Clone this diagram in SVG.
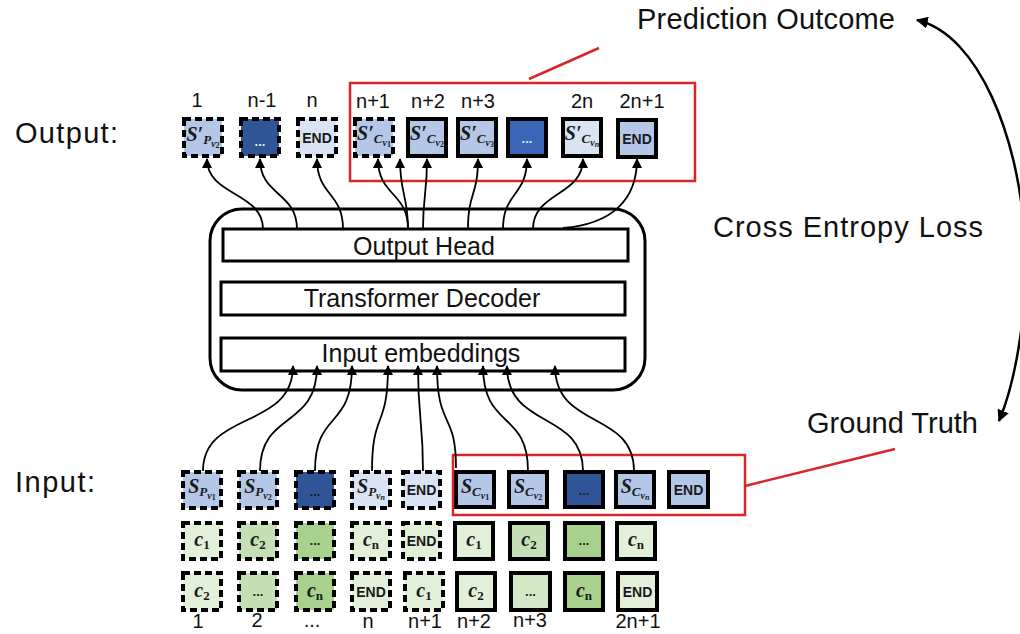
<svg xmlns="http://www.w3.org/2000/svg" width="1020" height="634" viewBox="0 0 1020 634">
  <style>
    .lbl { font-family: "Liberation Sans", Arial, sans-serif; fill: #111; }
    .big { font-size: 29px; }
    .mid { font-size: 25px; text-anchor: middle; }
    .idx { font-size: 20px; text-anchor: middle; }
    .bx { stroke: #000; stroke-width: 4; }
    .ds { stroke-dasharray: 7 4; }
    .layer { fill: #fff; stroke: #000; stroke-width: 3; }
    .b1 { fill: #b4c7e7; } .b2 { fill: #dae3f3; } .b3 { fill: #2f5597; } .b4 { fill: #3b65b6; }
    .g1 { fill: #e2f0d9; } .g2 { fill: #c5e0b4; } .g3 { fill: #a9d18e; } .g4 { fill: #d3e8c6; }
    .mt { font-family: "Liberation Serif", "DejaVu Serif", serif; font-weight: bold; font-style: italic; fill: #1a1a1a; text-anchor: middle; }
    .up { font-style: normal; }
    .f1 { font-size: 20px; } .f2 { font-size: 13px; } .f3 { font-size: 10px; } .f4 { font-size: 8px; }
    .end { font-family: "Liberation Sans", Arial, sans-serif; font-weight: bold; font-size: 14px; text-anchor: middle; fill: #1a1a1a; }
    .dots { font-family: "Liberation Sans", Arial, sans-serif; font-weight: bold; font-size: 13px; text-anchor: middle; fill: #1a1a1a; }
    .dotsw { fill: #e8edf7; }
    .wire { fill: none; stroke: #000; stroke-width: 1.8; marker-end: url(#tip); }
    .red { fill: none; stroke: #d9262b; stroke-width: 2.5; }
  </style>
  <defs>
    <marker id="tip" viewBox="0 0 10 10" refX="9" refY="5" markerUnits="userSpaceOnUse" markerWidth="10" markerHeight="10" orient="auto">
      <path d="M0,0 L10,5 L0,10 z" fill="#000"/>
    </marker>
    <marker id="tip2" viewBox="0 0 10 10" refX="9" refY="5" markerUnits="userSpaceOnUse" markerWidth="12" markerHeight="12" orient="auto-start-reverse">
      <path d="M0,0 L10,5 L0,10 z" fill="#000"/>
    </marker>
  </defs>

  <!-- side labels -->
  <text class="lbl big" x="15" y="143" textLength="103">Output:</text>
  <text class="lbl big" x="15" y="492" textLength="80">Input:</text>
  <text class="lbl big" x="637" y="29" textLength="258">Prediction Outcome</text>
  <text class="lbl big" x="713" y="237" textLength="270">Cross Entropy Loss</text>
  <text class="lbl big" x="807" y="433" textLength="171">Ground Truth</text>

  <!-- model stack -->
  <g id="decoder-block">
    <rect x="210" y="209" width="435" height="181" rx="32" class="layer"/>
  </g>
  <g id="output-head">
    <rect x="223" y="229" width="405" height="32" class="layer"/>
    <text class="lbl mid" x="424" y="255">Output Head</text>
  </g>
  <g id="transformer-decoder">
    <rect x="221" y="282" width="404" height="33" class="layer"/>
    <text class="lbl mid" x="422" y="307">Transformer Decoder</text>
  </g>
  <g id="input-embeddings">
    <rect x="221" y="338" width="404" height="33" class="layer"/>
    <text class="lbl mid" x="421" y="362">Input embeddings</text>
  </g>

  <!-- output position indices -->
  <g id="out-index">
    <text class="lbl idx" x="197" y="107">1</text>
    <text class="lbl idx" x="262" y="107">n-1</text>
    <text class="lbl idx" x="312" y="107">n</text>
    <text class="lbl idx" x="373" y="108">n+1</text>
    <text class="lbl idx" x="428" y="108">n+2</text>
    <text class="lbl idx" x="478" y="108">n+3</text>
    <text class="lbl idx" x="582" y="108">2n</text>
    <text class="lbl idx" x="642" y="108">2n+1</text>
  </g>

  <!-- output tokens -->
  <g id="out-1"><rect x="184" y="119" width="38" height="37" class="bx ds b1"/>
    <text class="mt" x="203" y="141"><tspan class="f1">S′</tspan><tspan class="f2" dy="3">P</tspan><tspan class="f3" dy="3">v</tspan><tspan class="f4 up" dy="1">2</tspan></text></g>
  <g id="out-2"><rect x="241" y="119" width="38" height="37" class="bx ds b3"/>
    <text class="dots dotsw" x="260" y="146">...</text></g>
  <g id="out-3"><rect x="298" y="119" width="38" height="37" class="bx ds b2"/>
    <text class="end" x="317" y="143">END</text></g>
  <g id="out-4"><rect x="355" y="119" width="38" height="37" class="bx ds b1"/>
    <text class="mt" x="374" y="140"><tspan class="f1">S′</tspan><tspan class="f2" dy="3">C</tspan><tspan class="f3" dy="3">v</tspan><tspan class="f4 up" dy="1">1</tspan></text></g>
  <g id="out-5"><rect x="408" y="119" width="38" height="37" class="bx b1"/>
    <text class="mt" x="427" y="140"><tspan class="f1">S′</tspan><tspan class="f2" dy="3">C</tspan><tspan class="f3" dy="3">v</tspan><tspan class="f4 up" dy="1">2</tspan></text></g>
  <g id="out-6"><rect x="458" y="119" width="38" height="37" class="bx b1"/>
    <text class="mt" x="477" y="140"><tspan class="f1">S′</tspan><tspan class="f2" dy="3">C</tspan><tspan class="f3" dy="3">v</tspan><tspan class="f4 up" dy="1">3</tspan></text></g>
  <g id="out-7"><rect x="508" y="119" width="38" height="37" class="bx b4"/>
    <text class="dots dotsw" x="527" y="143">...</text></g>
  <g id="out-8"><rect x="563" y="119" width="38" height="37" class="bx b2"/>
    <text class="mt" x="582" y="140"><tspan class="f1">S′</tspan><tspan class="f2" dy="3">C</tspan><tspan class="f3" dy="3">v</tspan><tspan class="f4" dy="1">n</tspan></text></g>
  <g id="out-9"><rect x="618" y="120" width="38" height="37" class="bx b1"/>
    <text class="end" x="637" y="144">END</text></g>

  <!-- input tokens -->
  <g id="in-1"><rect x="183" y="472" width="38" height="36" class="bx ds b1"/>
    <text class="mt" x="202" y="493"><tspan class="f1">S</tspan><tspan class="f2" dy="3">P</tspan><tspan class="f3" dy="3">v</tspan><tspan class="f4 up" dy="1">1</tspan></text></g>
  <g id="in-2"><rect x="239" y="472" width="38" height="36" class="bx ds b1"/>
    <text class="mt" x="258" y="493"><tspan class="f1">S</tspan><tspan class="f2" dy="3">P</tspan><tspan class="f3" dy="3">v</tspan><tspan class="f4 up" dy="1">2</tspan></text></g>
  <g id="in-3"><rect x="296" y="472" width="38" height="36" class="bx ds b3"/>
    <text class="dots" x="315" y="496">...</text></g>
  <g id="in-4"><rect x="352" y="472" width="38" height="36" class="bx ds b2"/>
    <text class="mt" x="371" y="493"><tspan class="f1">S</tspan><tspan class="f2" dy="3">P</tspan><tspan class="f3" dy="3">v</tspan><tspan class="f4" dy="1">n</tspan></text></g>
  <g id="in-5"><rect x="403" y="472" width="37" height="36" class="bx ds b2"/>
    <text class="end" x="421.5" y="495">END</text></g>
  <g id="in-6"><rect x="456" y="472" width="38" height="35" class="bx b1"/>
    <text class="mt" x="475" y="493"><tspan class="f1">S</tspan><tspan class="f2" dy="3">C</tspan><tspan class="f3" dy="3">v</tspan><tspan class="f4 up" dy="1">1</tspan></text></g>
  <g id="in-7"><rect x="509" y="472" width="38" height="35" class="bx b1"/>
    <text class="mt" x="528" y="493"><tspan class="f1">S</tspan><tspan class="f2" dy="3">C</tspan><tspan class="f3" dy="3">v</tspan><tspan class="f4 up" dy="1">2</tspan></text></g>
  <g id="in-8"><rect x="565" y="472" width="38" height="35" class="bx b3"/>
    <text class="dots" x="584" y="495">...</text></g>
  <g id="in-9"><rect x="616" y="472" width="38" height="35" class="bx b1"/>
    <text class="mt" x="635" y="493"><tspan class="f1">S</tspan><tspan class="f2" dy="3">C</tspan><tspan class="f3" dy="3">v</tspan><tspan class="f4" dy="1">n</tspan></text></g>
  <g id="in-10"><rect x="669" y="472" width="39" height="35" class="bx b1"/>
    <text class="end" x="688.5" y="495">END</text></g>

  <!-- context row -->
  <g id="ctx-1"><rect x="183" y="523" width="38" height="36" class="bx ds g1"/>
    <text class="mt" x="202" y="546"><tspan class="f1">c</tspan><tspan class="f2 up" dy="3">1</tspan></text></g>
  <g id="ctx-2"><rect x="239" y="523" width="38" height="36" class="bx ds g2"/>
    <text class="mt" x="258" y="546"><tspan class="f1">c</tspan><tspan class="f2 up" dy="3">2</tspan></text></g>
  <g id="ctx-3"><rect x="296" y="523" width="38" height="36" class="bx ds g3"/>
    <text class="dots" x="315" y="545">...</text></g>
  <g id="ctx-4"><rect x="352" y="523" width="38" height="36" class="bx ds g1"/>
    <text class="mt" x="371" y="546"><tspan class="f1">c</tspan><tspan class="f2 up" dy="3">n</tspan></text></g>
  <g id="ctx-5"><rect x="403" y="523" width="37" height="36" class="bx ds g1"/>
    <text class="end" x="421.5" y="546">END</text></g>
  <g id="ctx-6"><rect x="455" y="523" width="38" height="36" class="bx g1"/>
    <text class="mt" x="474" y="546"><tspan class="f1">c</tspan><tspan class="f2 up" dy="3">1</tspan></text></g>
  <g id="ctx-7"><rect x="510" y="523" width="38" height="36" class="bx g2"/>
    <text class="mt" x="529" y="546"><tspan class="f1">c</tspan><tspan class="f2 up" dy="3">2</tspan></text></g>
  <g id="ctx-8"><rect x="565" y="523" width="38" height="36" class="bx g3"/>
    <text class="dots" x="584" y="545">...</text></g>
  <g id="ctx-9"><rect x="617" y="523" width="38" height="36" class="bx g1"/>
    <text class="mt" x="636" y="546"><tspan class="f1">c</tspan><tspan class="f2 up" dy="3">n</tspan></text></g>

  <!-- shifted target row -->
  <g id="tgt-1"><rect x="183" y="573" width="38" height="37" class="bx ds g1"/>
    <text class="mt" x="202" y="597"><tspan class="f1">c</tspan><tspan class="f2 up" dy="3">2</tspan></text></g>
  <g id="tgt-2"><rect x="239" y="573" width="38" height="37" class="bx ds g2"/>
    <text class="dots" x="258" y="596">...</text></g>
  <g id="tgt-3"><rect x="296" y="573" width="38" height="37" class="bx ds g3"/>
    <text class="mt" x="315" y="597"><tspan class="f1">c</tspan><tspan class="f2 up" dy="3">n</tspan></text></g>
  <g id="tgt-4"><rect x="352" y="573" width="38" height="37" class="bx ds g1"/>
    <text class="end" x="371" y="597">END</text></g>
  <g id="tgt-5"><rect x="405" y="573" width="38" height="37" class="bx ds g1"/>
    <text class="mt" x="424" y="597"><tspan class="f1">c</tspan><tspan class="f2 up" dy="3">1</tspan></text></g>
  <g id="tgt-6"><rect x="457" y="573" width="38" height="37" class="bx g1"/>
    <text class="mt" x="476" y="597"><tspan class="f1">c</tspan><tspan class="f2 up" dy="3">2</tspan></text></g>
  <g id="tgt-7"><rect x="511" y="573" width="39" height="37" class="bx g4"/>
    <text class="dots" x="530.5" y="596">...</text></g>
  <g id="tgt-8"><rect x="565" y="573" width="38" height="37" class="bx g3"/>
    <text class="mt" x="584" y="597"><tspan class="f1">c</tspan><tspan class="f2 up" dy="3">n</tspan></text></g>
  <g id="tgt-9"><rect x="618" y="573" width="39" height="37" class="bx g1"/>
    <text class="end" x="637.5" y="597">END</text></g>

  <!-- input position indices -->
  <g id="in-index">
    <text class="lbl idx" x="198" y="628">1</text>
    <text class="lbl idx" x="257" y="627">2</text>
    <text class="lbl idx" x="312" y="627">...</text>
    <text class="lbl idx" x="368" y="628">n</text>
    <text class="lbl idx" x="425" y="628">n+1</text>
    <text class="lbl idx" x="474" y="628">n+2</text>
    <text class="lbl idx" x="530" y="627">n+3</text>
    <text class="lbl idx" x="638" y="628">2n+1</text>
  </g>

  <!-- highlight frames and callout ticks -->
  <g id="frames">
    <rect x="350" y="83" width="345" height="98" class="red"/>
    <line x1="529" y1="79" x2="599" y2="48" class="red"/>
    <rect x="453" y="455" width="292" height="60" class="red"/>
    <line x1="745" y1="486" x2="895" y2="449" class="red"/>
  </g>

  <!-- connectors -->
  <g id="connectors">
    <path class="wire" d="M263,229 C263,192 207,196 207,159"/>
    <path class="wire" d="M297,229 C297,192 260,196 260,159"/>
    <path class="wire" d="M343,229 C343,192 317,196 317,159"/>
    <path class="wire" d="M408,229 C408,192 378,196 378,159"/>
    <path class="wire" d="M408,229 C408,195 400,195 400,159"/>
    <path class="wire" d="M423,229 C423,195 427,195 427,159"/>
    <path class="wire" d="M468,229 C468,192 478,196 478,159"/>
    <path class="wire" d="M503,229 C503,192 527,196 527,159"/>
    <path class="wire" d="M533,229 C533,192 583,196 583,159"/>
    <path class="wire" d="M563,228 C612,224 637,200 637,159"/>

    <path class="wire" d="M203,471 C203,410 293,430 293,366"/>
    <path class="wire" d="M260,471 C260,410 317,430 317,366"/>
    <path class="wire" d="M315,471 C315,410 352,430 352,366"/>
    <path class="wire" d="M372,471 C372,410 388,430 388,366"/>
    <path class="wire" d="M423,471 C423,420 418,420 418,366"/>
    <path class="wire" d="M456,468 C456,410 437,430 437,366"/>
    <path class="wire" d="M528,471 C528,410 483,430 483,366"/>
    <path class="wire" d="M583,471 C583,410 507,430 507,366"/>
    <path class="wire" d="M634,471 C634,410 555,430 555,366"/>

    <path d="M917,20 C980,35 1018,140 1024,230 C1030,320 1012,390 999,421" fill="none" stroke="#000" stroke-width="2.5" marker-start="url(#tip2)" marker-end="url(#tip2)"/>
  </g>
</svg>
